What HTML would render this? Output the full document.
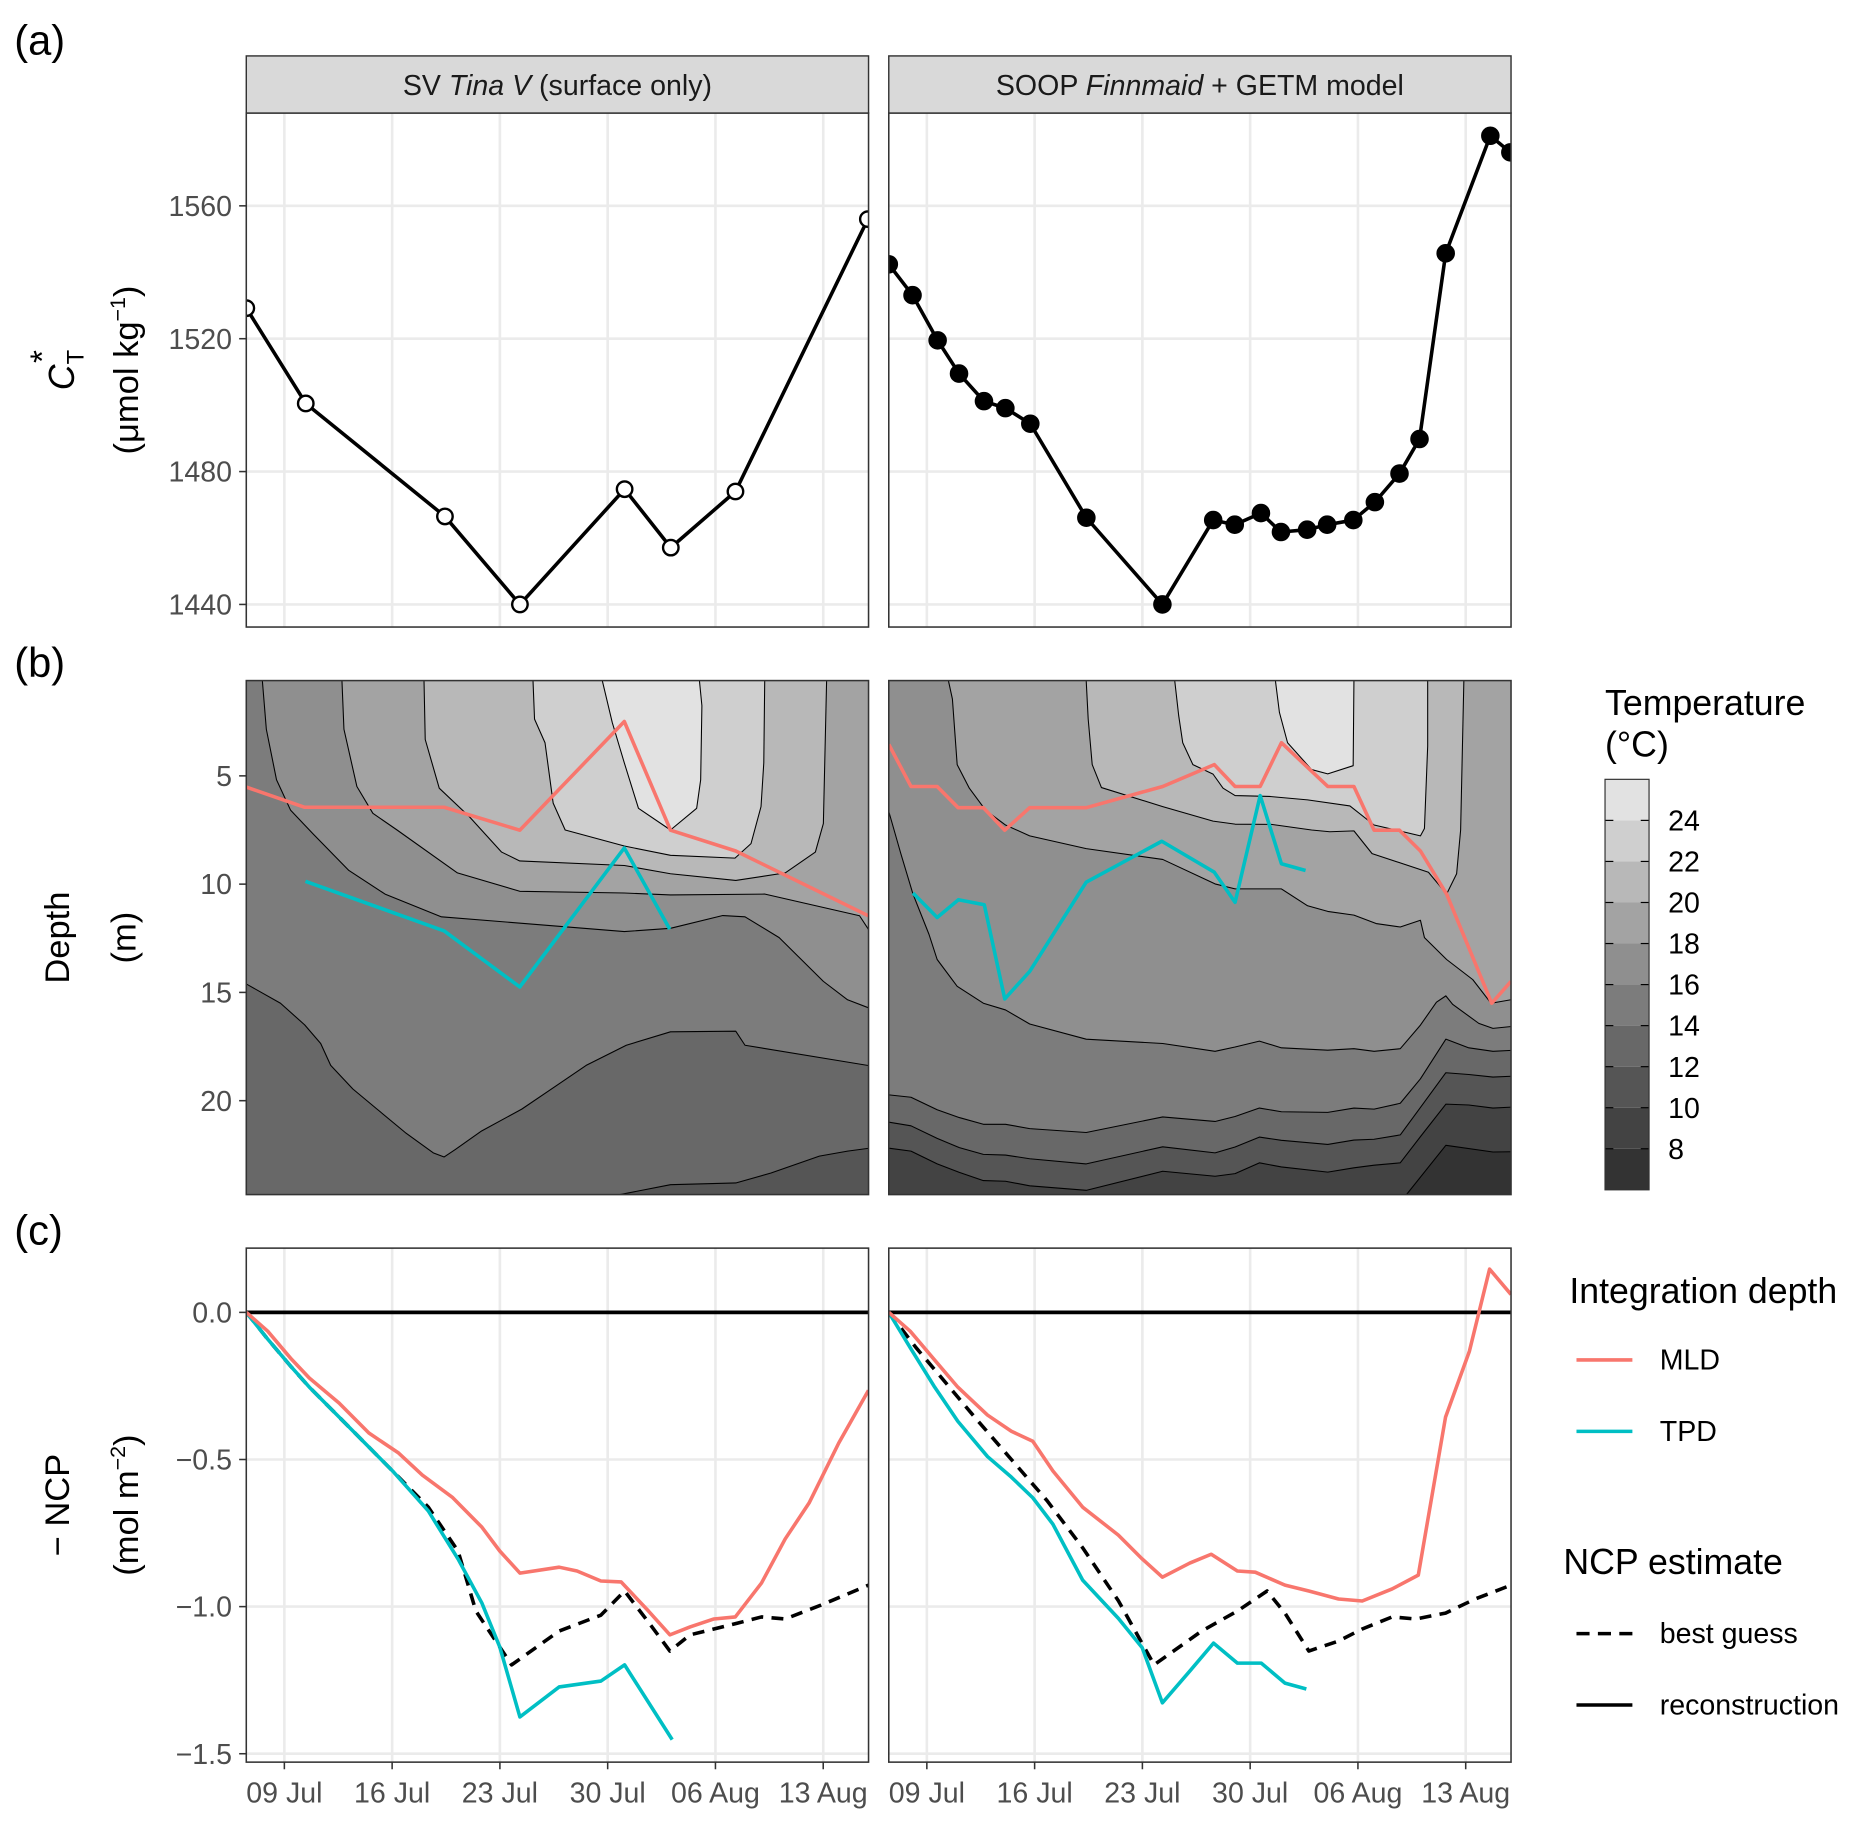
<!DOCTYPE html>
<html><head><meta charset="utf-8">
<style>
html,body{margin:0;padding:0;background:#fff;}
svg{display:block;font-family:"Liberation Sans",Arial,sans-serif;}
</style></head>
<body>
<svg id="fig" width="1865" height="1824" viewBox="0 0 1567.5 1533" preserveAspectRatio="none" xmlns="http://www.w3.org/2000/svg">
<defs>
<clipPath id="clipA0"><rect x="207" y="95" width="523" height="432"/></clipPath>
<clipPath id="clipA1"><rect x="747" y="95" width="523" height="432"/></clipPath>
<clipPath id="clipB0"><rect x="207" y="572" width="523" height="432"/></clipPath>
<clipPath id="clipB1"><rect x="747" y="572" width="523" height="432"/></clipPath>
<clipPath id="clipC0"><rect x="207" y="1049" width="523" height="432"/></clipPath>
<clipPath id="clipC1"><rect x="747" y="1049" width="523" height="432"/></clipPath>
</defs>
<g id="root"></g>
<text x="12" y="46" font-size="35">(a)</text>
<text x="12" y="569" font-size="35">(b)</text>
<text x="12" y="1046" font-size="35">(c)</text>

<g>
<rect x="207" y="47" width="523" height="48" fill="#d9d9d9" stroke="#333" stroke-width="1.2"/>
<text x="468.5" y="80" font-size="24" text-anchor="middle" fill="#1a1a1a">SV <tspan font-style="italic">Tina V</tspan> (surface only)</text>
</g>
<g>
<rect x="747" y="47" width="523" height="48" fill="#d9d9d9" stroke="#333" stroke-width="1.2"/>
<text x="1008.5" y="80" font-size="24" text-anchor="middle" fill="#1a1a1a">SOOP <tspan font-style="italic">Finnmaid</tspan> + GETM model</text>
</g>

<g>
<text transform="translate(62,311) rotate(-90)" font-size="30" text-anchor="middle"><tspan font-style="italic">C</tspan><tspan font-size="20" dy="8">T</tspan><tspan font-size="28" dx="-11" dy="-25">*</tspan></text>
<text transform="translate(116,311) rotate(-90)" font-size="29" text-anchor="middle">(μmol kg<tspan font-size="18" dy="-11">−1</tspan><tspan dy="11">)</tspan></text>
</g>
<g>
<text transform="translate(58,788) rotate(-90)" font-size="29" text-anchor="middle">Depth</text>
<text transform="translate(114,788) rotate(-90)" font-size="29" text-anchor="middle">(m)</text>
</g>
<g>
<text transform="translate(58,1265) rotate(-90)" font-size="29" text-anchor="middle">− NCP</text>
<text transform="translate(116,1265) rotate(-90)" font-size="29" text-anchor="middle">(mol m<tspan font-size="18" dy="-11">−2</tspan><tspan dy="11">)</tspan></text>
</g>

<g>
<text x="1349" y="601" font-size="30">Temperature</text>
<text x="1349" y="636" font-size="30">(°C)</text>
<g id="cbar"></g>
</g>

<g>
<text x="1319" y="1095" font-size="30">Integration depth</text>
<line x1="1325" y1="1143" x2="1372" y2="1143" stroke="#F8766D" stroke-width="3"/>
<text x="1395" y="1151" font-size="24">MLD</text>
<line x1="1325" y1="1203" x2="1372" y2="1203" stroke="#00BFC4" stroke-width="3"/>
<text x="1395" y="1211" font-size="24">TPD</text>
</g>
<g>
<text x="1314" y="1323" font-size="30">NCP estimate</text>
<line x1="1325" y1="1373" x2="1372" y2="1373" stroke="#000" stroke-width="3" stroke-dasharray="11,7"/>
<text x="1395" y="1381" font-size="24">best guess</text>
<line x1="1325" y1="1433" x2="1372" y2="1433" stroke="#000" stroke-width="3"/>
<text x="1395" y="1441" font-size="24">reconstruction</text>
</g>
</svg>

<script>
// ---------------- data ----------------
const xTickLabels = ["09 Jul","16 Jul","23 Jul","30 Jul","06 Aug","13 Aug"];
const xTickDays = [0,7,14,21,28,35];
const aTicks = [1440,1480,1520,1560];
const bTicks = [5,10,15,20];
const cTicks = [0,-0.5,-1,-1.5];
const cTickLabels = ["0.0","−0.5","−1.0","−1.5"];

const aLeftDays = [-2.47,1.39,10.43,15.3,22.1,25.1,29.3,37.9];
const aLeftVals = [1529.2,1500.5,1466.5,1440,1474.7,1457.1,1474,1556];
const aRightDays = [-2.47,-0.93,0.70,2.09,3.71,5.10,6.72,10.36,15.3,18.6,20.0,21.7,23.0,24.7,26.0,27.7,29.1,30.7,32.0,33.7,36.6,37.9];
const aRightVals = [1542.4,1533.1,1519.5,1509.5,1501.2,1499.1,1494.4,1466.1,1440,1465.4,1464,1467.5,1461.8,1462.5,1464,1465.4,1470.8,1479.4,1489.8,1545.7,1581.1,1576.1];

const bLeftMldDays = [-2.47,1.32,10.38,15.29,22.08,25.08,29.32,37.93];
const bLeftMldDepth = [5.52,6.45,6.45,7.51,2.49,7.51,8.47,11.46];
const bLeftTpdDays = [1.37,10.38,15.29,22.08,25.03];
const bLeftTpdDepth = [9.87,12.16,14.75,8.33,12.08];
const bRightMldDays = [-2.47,-1.03,0.67,2.03,3.67,5.06,6.68,10.35,15.32,18.67,20.02,21.65,23.03,26.04,27.74,29.05,30.7,32.06,33.76,36.69,37.94];
const bRightMldDepth = [3.55,5.49,5.49,6.47,6.47,7.51,6.47,6.47,5.49,4.48,5.49,5.49,3.47,5.49,5.49,7.51,7.51,8.47,10.46,15.5,14.49];
const bRightTpdDays = [-0.9,0.67,2.05,3.73,5.06,6.68,10.35,15.26,18.67,20.02,21.65,23.03,24.6];
const bRightTpdDepth = [10.41,11.54,10.72,10.95,15.3,14.03,9.91,8.02,9.45,10.84,5.91,9.06,9.37];

const isoL12 = [[21.69,25],[21.69,24.35],[25.08,23.88],[29.32,23.8],[31.61,23.34],[34.75,22.56],[36.58,22.33],[39,22.1],[39,-1],[-3,-1],[-3,25]];
const isoL14 = [[-3,14.4],[-0.25,15.5],[1.32,16.5],[2.36,17.36],[3.01,18.37],[4.45,19.46],[6.02,20.39],[7.85,21.47],[9.67,22.41],[10.38,22.6],[11.11,22.25],[12.81,21.4],[15.42,20.39],[17.51,19.38],[19.6,18.37],[22.21,17.44],[25.08,16.82],[29.32,16.79],[29.92,17.44],[39,18.5],[39,-1],[-3,-1]];
const isoL16 = [[-1.45,-1],[-1.43,0.6],[-1.17,2.85],[-0.51,5.18],[0.4,6.58],[1.84,7.66],[4.19,9.37],[6.54,10.46],[10.2,11.51],[22.08,12.19],[25.08,12.04],[28.48,11.45],[29.92,11.51],[32.14,12.47],[35.01,14.49],[36.58,15.34],[39,16.0],[39,-1]];
const isoL18 = [[3.74,-1],[3.74,0.6],[3.87,2.85],[4.71,5.49],[5.75,6.73],[7.32,7.5],[11.24,9.48],[15.29,10.33],[22.08,10.41],[25.08,10.5],[31.22,10.46],[37.36,11.46],[37.93,12.08],[39,14],[39,-1]];
const isoL20 = [[9.07,-1],[9.07,0.6],[9.15,3.32],[10.06,5.57],[12.02,6.89],[14.11,8.52],[15.29,8.93],[22.08,9.14],[25.08,9.52],[29.32,9.83],[32.53,9.48],[34.49,8.52],[35.01,7.2],[35.22,0.6],[35.22,-1]];
const isoL22 = [[16.15,-1],[16.15,0.6],[16.25,2.38],[16.93,3.47],[17.46,6.26],[18.24,7.5],[22.08,8.24],[25.08,8.67],[29.27,8.8],[30.31,8.13],[30.96,6.42],[31.14,4.4],[31.2,0.6],[31.2,-1]];
const isoL24 = [[20.65,-1],[20.65,0.6],[21.3,2.54],[22.08,4.4],[23.0,6.5],[25.08,7.5],[26.78,6.5],[27.04,5.18],[27.12,1.76],[26.96,0.6],[26.96,-1]];

const isoRDays = [-3,-1.03,0.67,2.11,3.67,5.11,6.68,10.35,15.32,18.72,20.02,21.6,23.03,26.04,27.74,29.05,30.75,32.06,33.71,35.2,36.77,39];
const isoR10Depth = [22.14,22.33,22.92,23.31,23.69,23.72,23.93,24.14,23.26,23.49,23.37,22.87,23.06,23.3,23.1,22.98,22.87,21.66,20.16,20.2,20.34,20.26];
const isoR12Depth = [20.93,21.16,21.74,22.17,22.48,22.51,22.68,22.92,22.13,22.41,22.14,21.68,21.83,22.02,21.82,21.78,21.58,20.31,18.71,18.79,18.91,18.84];
const isoR14Depth = [19.69,19.84,20.42,20.78,21.09,21.09,21.29,21.47,20.75,20.96,20.73,20.34,20.51,20.54,20.34,20.39,20.12,18.99,17.16,17.56,17.72,17.64];
const isoR8 = [[31.14,25],[31.14,24.35],[33.71,22.06],[36.77,22.37],[39,22.35],[39,-1],[-3,-1],[-3,25]];
const isoR16 = [[-3,6.6],[-2.47,6.65],[-1.69,8.59],[-0.9,10.46],[0.14,12.32],[0.67,13.48],[1.97,14.72],[3.67,15.5],[5.11,15.81],[6.68,16.46],[10.35,17.16],[15.32,17.36],[18.72,17.72],[20.02,17.52],[21.6,17.25],[23.03,17.56],[26.04,17.67],[27.74,17.6],[29.05,17.72],[30.75,17.6],[32.06,16.51],[33.1,15.45],[33.71,15.16],[34.15,15.55],[35.85,16.43],[36.77,16.66],[39,16.5],[39,-1],[-3,-1]];
const isoR18 = [[1.4,-1],[1.4,0.6],[1.66,1.45],[1.97,4.48],[2.76,5.57],[3.81,6.58],[5.11,7.27],[6.68,7.77],[10.35,8.36],[15.32,8.86],[18.72,9.99],[20.02,10.22],[23.03,10.22],[24.73,11.0],[26.04,11.26],[27.74,11.43],[29.18,11.82],[30.75,11.98],[32.06,11.67],[32.32,12.47],[33.76,13.48],[35.46,14.41],[36.64,15.5],[37.94,15.34],[39,15.3],[39,-1]];
const isoR20 = [[10.35,-1],[10.35,0.6],[10.48,2.38],[10.74,4.48],[11.34,5.54],[15.32,6.42],[18.59,7.09],[20.02,7.23],[22.38,7.24],[24.99,7.5],[26.17,7.58],[27.74,7.54],[28.92,8.59],[32.58,9.45],[33.76,10.46],[34.41,9.52],[34.67,7.5],[34.88,0.6],[34.88,-1]];
const isoR22 = [[16.1,-1],[16.1,0.6],[16.36,2.23],[16.62,3.47],[17.28,4.48],[18.59,4.92],[19.24,5.57],[20.02,5.91],[22.25,5.95],[24.73,6.11],[27.48,6.39],[29.05,7.27],[32.06,7.77],[32.32,7.43],[32.53,3.63],[32.53,-1]];
const isoR24 = [[22.64,-1],[22.64,0.6],[22.9,2.07],[23.43,3.47],[24.99,4.71],[26.04,4.91],[27.69,4.53],[27.74,0.6],[27.74,-1]];

const tempLevels = [6,8,10,12,14,16,18,20,22,24];
const tempColors = ["#333333","#434343","#555555","#686868","#7c7c7c","#8f8f8f","#a3a3a3","#b8b8b8","#cfcfcf","#e2e2e2"];
const cbarLabels = [8,10,12,14,16,18,20,22,24];

const cLeftMldDays = [-2.47,-1.08,0.46,1.62,3.55,5.49,7.42,8.96,10.9,12.83,13.99,15.3,17.85,19.01,20.56,21.87,23.65,25.04,26.35,27.9,29.29,30.99,32.53,34.08,36.01,37.94];
const cLeftMldVals = [0,-0.064,-0.159,-0.223,-0.308,-0.41,-0.478,-0.553,-0.628,-0.73,-0.811,-0.886,-0.866,-0.879,-0.913,-0.916,-1.015,-1.096,-1.069,-1.042,-1.035,-0.92,-0.77,-0.648,-0.444,-0.265];
const cLeftTpdDays = [-2.47,-1.08,0.46,1.62,3.94,7.03,9.35,11.28,12.83,13.99,15.3,17.85,20.56,22.1,25.19];
const cLeftTpdVals = [0,-0.091,-0.186,-0.254,-0.376,-0.539,-0.675,-0.838,-0.988,-1.137,-1.375,-1.273,-1.253,-1.198,-1.452];
const cLeftBestDays = [-2.47,-1.08,0.46,1.62,3.94,7.03,9.35,11.28,12.44,14.76,17.85,20.56,22.1,23.88,25.04,26.35,29.44,30.99,32.53,34.85,37.94];
const cLeftBestVals = [0,-0.091,-0.186,-0.254,-0.376,-0.539,-0.662,-0.811,-1.015,-1.198,-1.083,-1.029,-0.947,-1.069,-1.151,-1.096,-1.056,-1.035,-1.042,-0.995,-0.927];
const cRightMldDays = [-2.47,-1.08,0.46,2.01,3.94,5.49,6.88,8.19,10.12,12.44,13.99,15.3,17.08,18.47,20.17,21.33,23.26,24.81,26.74,28.28,30.22,31.92,33.69,35.24,36.55,37.94];
const cRightMldVals = [0,-0.064,-0.159,-0.254,-0.349,-0.404,-0.438,-0.539,-0.662,-0.757,-0.838,-0.9,-0.852,-0.822,-0.879,-0.883,-0.927,-0.947,-0.974,-0.981,-0.94,-0.893,-0.356,-0.132,0.147,0.061];
const cRightTpdDays = [-2.47,-1.08,0.46,2.01,3.94,5.49,6.88,8.19,10.12,12.44,13.99,15.3,17.08,18.62,20.17,21.72,23.26,24.65];
const cRightTpdVals = [0,-0.12,-0.25,-0.37,-0.49,-0.56,-0.63,-0.72,-0.91,-1.04,-1.14,-1.327,-1.219,-1.124,-1.192,-1.192,-1.26,-1.28];
const cRightBestDays = [-2.47,-0.7,1.24,3.17,5.49,7.81,10.12,12.44,14.76,17.85,20.17,22.1,23.26,24.81,26.74,28.28,30.22,31.76,33.69,35.62,37.94];
const cRightBestVals = [0,-0.12,-0.24,-0.36,-0.5,-0.64,-0.8,-0.98,-1.198,-1.083,-1.015,-0.947,-1.022,-1.151,-1.117,-1.076,-1.035,-1.042,-1.022,-0.974,-0.927];

// ---------------- scales ----------------
const NS = "http://www.w3.org/2000/svg";
const root = document.getElementById("root");
const panelsX = [207, 747];
const PW = 523, PH = 432;
const PX_PER_DAY = 12.94;
function xS(d, p){ return panelsX[p] + 32 + d * PX_PER_DAY; }
function yA(v){ return 173 + (1560 - v) * 2.7917; }
function yB(z){ return 572 + (z - 0.6) * 18.2; }
function yC(v){ return 1103 - v * 247.3; }
const rowTop = {a:95, b:572, c:1049};

function mk(tag, attrs, parent){
  const e = document.createElementNS(NS, tag);
  for (const k in attrs) e.setAttribute(k, attrs[k]);
  (parent || root).appendChild(e);
  return e;
}
function pathFrom(xs, ys){
  return xs.map((x,i)=>(i?"L":"M")+x.toFixed(2)+","+ys[i].toFixed(2)).join("");
}

["a","c"].forEach(row=>{
  [0,1].forEach(p=>{
    const bg = mk("rect",{x:panelsX[p],y:rowTop[row],width:PW,height:PH,fill:"#fff"});
    
    
    const g = mk("g",{"clip-path":"url(#clip"+row.toUpperCase()+p+")"});
    
    
    xTickDays.forEach(d=>{
      mk("line",{x1:xS(d,p),x2:xS(d,p),y1:rowTop[row],y2:rowTop[row]+PH,stroke:"#ebebeb","stroke-width":2.2},g);
    });
    const ticks = row==="a"?aTicks:cTicks;
    const yf = row==="a"?yA:yC;
    ticks.forEach(t=>{
      mk("line",{x1:panelsX[p],x2:panelsX[p]+PW,y1:yf(t),y2:yf(t),stroke:"#ebebeb","stroke-width":2.2},g);
    });
  });
});

const leftIso = [isoL12,isoL14,isoL16,isoL18,isoL20,isoL22,isoL24];
const rightIsoGrid = [isoR10Depth,isoR12Depth,isoR14Depth];
function drawContours(p, baseColor, polys, colors){
  const g = mk("g",{"clip-path":"url(#clipB"+p+")"});
  
  
  const base = mk("rect",{x:panelsX[p],y:572,width:PW,height:PH,fill:baseColor},g);
  
  
  polys.forEach((poly,i)=>{
    const d = poly.map((pt,j)=>(j?"L":"M")+xS(pt[0],p).toFixed(2)+","+yB(pt[1]).toFixed(2)).join("")+"Z";
    const e = mk("path",{d:d,fill:colors[i],stroke:"#000","stroke-width":0.9,"stroke-linejoin":"round"},g);
    
    
  });
}
drawContours(0, tempColors[2], leftIso, tempColors.slice(3));
const rightPolys = [isoR8];
rightIsoGrid.forEach(depths=>{
  const poly = isoRDays.map((d,i)=>[d,depths[i]]);
  poly.push([39,-1]); poly.push([-3,-1]);
  rightPolys.push(poly);
});
rightPolys.push(isoR16, isoR18, isoR20, isoR22, isoR24);
drawContours(1, tempColors[0], rightPolys, tempColors.slice(1));

function drawA(p, days, vals, filled){
  const g = mk("g",{"clip-path":"url(#clipA"+p+")"});
  
  
  const xs = days.map(d=>xS(d,p)), ys = vals.map(yA);
  const l = mk("path",{d:pathFrom(xs,ys),fill:"none",stroke:"#000","stroke-width":3,"stroke-linejoin":"round"},g);
  
  
  xs.forEach((x,i)=>{
    const c = mk("circle",{cx:x,cy:ys[i],r:filled?6.8:6.5,fill:filled?"#000":"#fff",stroke:"#000","stroke-width":2},g);
    
    
  });
}
drawA(0, aLeftDays, aLeftVals, false);
drawA(1, aRightDays, aRightVals, true);

function drawLine(row, p, days, vals, yf, color, name, dash){
  const g = mk("g",{"clip-path":"url(#clip"+row+p+")"});
  const attrs = {d:pathFrom(days.map(d=>xS(d,p)), vals.map(yf)),fill:"none",stroke:color,"stroke-width":3,"stroke-linejoin":"round"};
  if (dash) attrs["stroke-dasharray"] = dash;
  const e = mk("path",attrs,g);
  
  
}
drawLine("B",0,bLeftMldDays,bLeftMldDepth,yB,"#F8766D","mld-depth-line-left");
drawLine("B",0,bLeftTpdDays,bLeftTpdDepth,yB,"#00BFC4","tpd-depth-line-left");
drawLine("B",1,bRightMldDays,bRightMldDepth,yB,"#F8766D","mld-depth-line-right");
drawLine("B",1,bRightTpdDays,bRightTpdDepth,yB,"#00BFC4","tpd-depth-line-right");

[0,1].forEach(p=>{
  const g = mk("g",{"clip-path":"url(#clipC"+p+")"});
  const e = mk("line",{x1:panelsX[p],x2:panelsX[p]+PW,y1:yC(0),y2:yC(0),stroke:"#000","stroke-width":3.2},g);
  
  
});
drawLine("C",0,cLeftBestDays,cLeftBestVals,yC,"#000","best-guess-line-left","10,7");
drawLine("C",0,cLeftTpdDays,cLeftTpdVals,yC,"#00BFC4","tpd-ncp-line-left");
drawLine("C",0,cLeftMldDays,cLeftMldVals,yC,"#F8766D","mld-ncp-line-left");
drawLine("C",1,cRightBestDays,cRightBestVals,yC,"#000","best-guess-line-right","10,7");
drawLine("C",1,cRightTpdDays,cRightTpdVals,yC,"#00BFC4","tpd-ncp-line-right");
drawLine("C",1,cRightMldDays,cRightMldVals,yC,"#F8766D","mld-ncp-line-right");

["a","b","c"].forEach(row=>{
  [0,1].forEach(p=>{
    const b = mk("rect",{x:panelsX[p],y:rowTop[row],width:PW,height:PH,fill:"none",stroke:"#333","stroke-width":1.3});
    
    
  });
});

function yAxis(row, ticks, labels, yf){
  const g = mk("g",{});
  
  
  ticks.forEach((t,i)=>{
    mk("line",{x1:201,x2:207,y1:yf(t),y2:yf(t),stroke:"#333","stroke-width":1.3},g);
    const tx = mk("text",{x:195,y:yf(t)+8.5,"font-size":24,"text-anchor":"end",fill:"#4d4d4d"},g);
    tx.textContent = labels[i];
    
    
  });
}
yAxis("a", aTicks, aTicks.map(String), yA);
yAxis("b", bTicks, bTicks.map(String), yB);
yAxis("c", cTicks, cTickLabels, yC);

[0,1].forEach(p=>{
  const g = mk("g",{});
  
  
  xTickDays.forEach((d,i)=>{
    mk("line",{x1:xS(d,p),x2:xS(d,p),y1:1481,y2:1487,stroke:"#333","stroke-width":1.3},g);
    const tx = mk("text",{x:xS(d,p),y:1515,"font-size":24,"text-anchor":"middle",fill:"#4d4d4d"},g);
    tx.textContent = xTickLabels[i];
    
    
  });
});

const cbar = document.getElementById("cbar");
const cbTop = 655, cbBot = 1000, cbX = 1349, cbW = 37;
function yCb(t){ return cbBot - (t - 6) / 20 * (cbBot - cbTop); }
tempLevels.forEach((lv,i)=>{
  const r = mk("rect",{x:cbX,y:yCb(lv+2),width:cbW,height:yCb(lv)-yCb(lv+2),fill:tempColors[i]},cbar);
  
  
});
cbarLabels.forEach(t=>{
  mk("line",{x1:cbX,x2:cbX+7,y1:yCb(t),y2:yCb(t),stroke:"#000","stroke-width":1},cbar);
  mk("line",{x1:cbX+cbW-7,x2:cbX+cbW,y1:yCb(t),y2:yCb(t),stroke:"#000","stroke-width":1},cbar);
  const tx = mk("text",{x:1402,y:yCb(t)+8.5,"font-size":24},cbar);
  tx.textContent = String(t);
  
  
});
mk("rect",{x:cbX,y:cbTop,width:cbW,height:cbBot-cbTop,fill:"none",stroke:"#333","stroke-width":1},cbar);
</script>
</body></html>
